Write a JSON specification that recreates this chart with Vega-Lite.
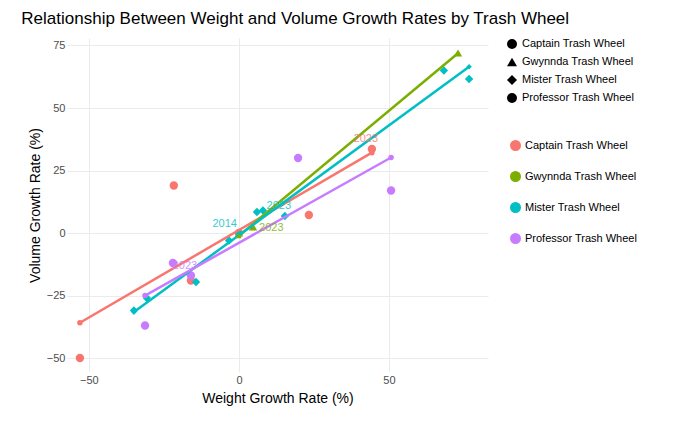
{
  "$schema": "https://vega.github.io/schema/vega-lite/v6.json",
  "width": 421,
  "height": 334,
  "autosize": "none",
  "padding": {"left": 67, "top": 38, "right": 198, "bottom": 61},
  "background": "white",
  "title": {"text": "Relationship Between Weight and Volume Growth Rates by Trash Wheel", "fontSize": 17, "font": "Liberation Sans", "fontWeight": "normal", "anchor": "start", "offset": 10, "dx": -7, "color": "black"},
  "config": {
    "font": "Liberation Sans",
    "view": {"stroke": null},
    "axis": {"gridColor": "#ebebeb", "domain": false, "ticks": false, "labelColor": "#4d4d4d", "labelFontSize": 11, "titleFontSize": 14, "titleFontWeight": "normal", "titleColor": "black"},
    "legend": {"labelFontSize": 11, "title": null}
  },
  "data": {"values": [
    {"wheel": "Captain Trash Wheel", "w": 0, "v": 0, "label": null},
    {"wheel": "Captain Trash Wheel", "w": -53, "v": -50, "label": null},
    {"wheel": "Captain Trash Wheel", "w": -21.7, "v": 19, "label": null},
    {"wheel": "Captain Trash Wheel", "w": -16, "v": -19, "label": null},
    {"wheel": "Captain Trash Wheel", "w": 23.3, "v": 7.2, "label": null},
    {"wheel": "Captain Trash Wheel", "w": 44.3, "v": 33.6, "label": "2023"},
    {"wheel": "Gwynnda Trash Wheel", "w": 0, "v": 0, "label": null},
    {"wheel": "Gwynnda Trash Wheel", "w": 4.7, "v": 2.4, "label": "2023"},
    {"wheel": "Gwynnda Trash Wheel", "w": 73, "v": 72, "label": null},
    {"wheel": "Mister Trash Wheel", "w": 0, "v": 0, "label": "2014"},
    {"wheel": "Mister Trash Wheel", "w": -35, "v": -31, "label": null},
    {"wheel": "Mister Trash Wheel", "w": -30.7, "v": -26, "label": null},
    {"wheel": "Mister Trash Wheel", "w": -14.3, "v": -19.6, "label": null},
    {"wheel": "Mister Trash Wheel", "w": -3.3, "v": -3, "label": null},
    {"wheel": "Mister Trash Wheel", "w": 6, "v": 8.4, "label": null},
    {"wheel": "Mister Trash Wheel", "w": 8, "v": 9, "label": null},
    {"wheel": "Mister Trash Wheel", "w": 15.3, "v": 6.8, "label": "2023"},
    {"wheel": "Mister Trash Wheel", "w": 68.3, "v": 65, "label": null},
    {"wheel": "Mister Trash Wheel", "w": 76.7, "v": 61.6, "label": null},
    {"wheel": "Professor Trash Wheel", "w": -22, "v": -12, "label": null},
    {"wheel": "Professor Trash Wheel", "w": -16, "v": -17, "label": "2023"},
    {"wheel": "Professor Trash Wheel", "w": -31.3, "v": -37, "label": null},
    {"wheel": "Professor Trash Wheel", "w": 19.7, "v": 30, "label": null},
    {"wheel": "Professor Trash Wheel", "w": 50.7, "v": 17, "label": null}
  ]},
  "encoding": {
    "x": {"field": "w", "type": "quantitative", "title": "Weight Growth Rate (%)", "scale": {"domain": [-57.3, 83], "nice": false, "zero": false}, "axis": {"values": [-50, 0, 50], "titlePadding": 6}},
    "y": {"field": "v", "type": "quantitative", "title": "Volume Growth Rate (%)", "scale": {"domain": [-55.6, 78], "nice": false, "zero": false}, "axis": {"values": [-50, -25, 0, 25, 50, 75]}},
    "color": {"field": "wheel", "type": "nominal", "scale": {"range": ["#F8766D", "#7CAE00", "#00BFC4", "#C77CFF"]}, "legend": {"orient": "none", "legendX": 443, "legendY": 102, "symbolSize": 90, "rowPadding": 14}},
    "shape": {"field": "wheel", "type": "nominal", "scale": {"range": ["circle", "triangle-up", "diamond", "circle"]}}
  },
  "layer": [
    {
      "mark": {"type": "point", "filled": true, "opacity": 1, "size": 70}
    },
    {
      "transform": [{"regression": "v", "on": "w", "groupby": ["wheel"]}],
      "mark": {"type": "line", "strokeWidth": 2.5},
      "encoding": {}
    },
    {
      "transform": [{"filter": "datum.label != null && !(datum.wheel == 'Gwynnda Trash Wheel') && !(datum.label == '2014')"}],
      "mark": {"type": "text", "dy": -10, "dx": -6, "fontSize": 11, "opacity": 0.8},
      "encoding": {"text": {"field": "label"}}
    },
    {
      "transform": [{"filter": "datum.label == '2014'"}],
      "mark": {"type": "text", "dy": -9, "dx": -2, "align": "right", "fontSize": 11, "opacity": 0.8},
      "encoding": {"text": {"field": "label"}}
    },
    {
      "transform": [{"filter": "datum.wheel == 'Gwynnda Trash Wheel' && datum.label != null"}],
      "mark": {"type": "text", "dx": 6, "dy": 1, "align": "left", "fontSize": 11, "opacity": 0.8},
      "encoding": {"text": {"field": "label"}}
    }
  ]
}
